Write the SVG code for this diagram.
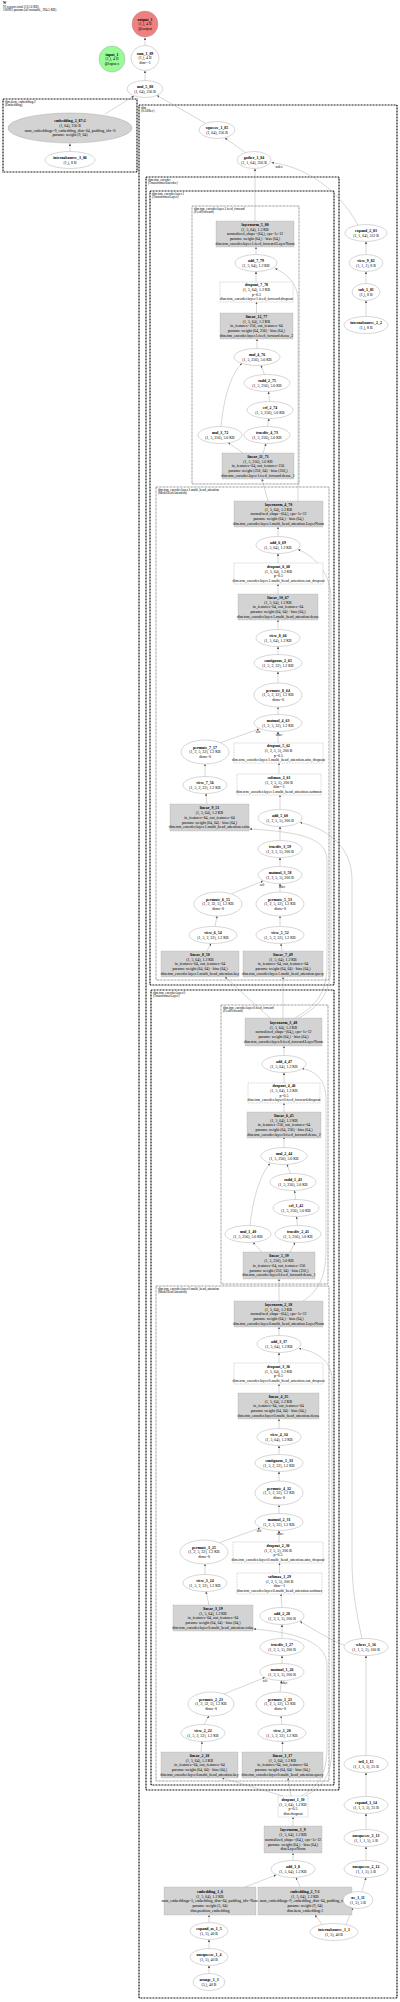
<svg xmlns="http://www.w3.org/2000/svg" width="400" height="2002" viewBox="0 0 400 2002">
<style>
text{font-family:"Liberation Serif",serif;font-size:3.9px;text-anchor:middle;fill:#000}
.b{font-weight:bold}
.n ellipse,.n circle{fill:#fff;stroke:#999;stroke-width:.4}
.n rect{stroke:#999;stroke-width:.4;stroke-dasharray:1 .6}
.gr{fill:#d3d3d3}
.wh{fill:#fff}
.cl rect{fill:none}
.c1{stroke:#000;stroke-width:1.1;stroke-dasharray:.9 .6}
.c2{stroke:#333;stroke-width:.6;stroke-dasharray:.8 .6}
.cl text,.hd{text-anchor:start;font-size:3.3px}
#edges path{fill:none;stroke:#999;stroke-width:.4;marker-end:url(#a)}
.lbl{font-size:3.2px}
</style>
<defs>
<marker id="a" viewBox="0 0 10 10" refX="10" refY="5" markerWidth="2.4" markerHeight="2.4" markerUnits="userSpaceOnUse" orient="auto"><path d="M0,0L10,5L0,10z" fill="#555"/></marker>
</defs>
<rect width="400" height="2002" fill="#fff"/>
<g id="title">
<text class="hd b" x="3" y="4.2">W</text>
<text class="hd" x="3" y="7.6">91 tensors total (112.6 KB)</text>
<text class="hd" x="3" y="11">100992 params (all trainable, 394.5 KB)</text>
</g>

<g id="clusters" class="cl">
<g id="cl_item_embedding"><rect class="c1" x="3" y="99" width="134" height="73"/><text x="5" y="102.5">dim.item_embedding:2</text><text x="5" y="105.8">(Embedding)</text></g>
<g id="cl_dim"><rect class="c1" x="139" y="105" width="258" height="1893"/><text x="141" y="108.5">dim</text><text x="141" y="111.8">(SASRec)</text></g>
<g id="cl_trm_encoder"><rect class="c1" x="146" y="177" width="193" height="1613"/><text x="148" y="180.5">dim.trm_encoder</text><text x="148" y="183.8">(TransformerEncoder)</text></g>
<g id="cl_layer1"><rect class="c1" x="150" y="191" width="184" height="794"/><text x="152" y="194.5">dim.trm_encoder.layer.1</text><text x="152" y="197.8">(TransformerLayer)</text></g>
<g id="cl_ff1"><rect class="c2" x="192" y="206" width="107" height="278"/><text x="194" y="209.5">dim.trm_encoder.layer.1.feed_forward</text><text x="194" y="212.8">(FeedForward)</text></g>
<g id="cl_mha1"><rect class="c2" x="156" y="487" width="173" height="493"/><text x="158" y="490.5">dim.trm_encoder.layer.1.multi_head_attention</text><text x="158" y="493.8">(MultiHeadAttention)</text></g>
<g id="cl_layer0"><rect class="c1" x="151" y="990" width="183" height="795"/><text x="153" y="993.5">dim.trm_encoder.layer.0</text><text x="153" y="996.8">(TransformerLayer)</text></g>
<g id="cl_ff0"><rect class="c2" x="221" y="1005" width="107" height="279"/><text x="223" y="1008.5">dim.trm_encoder.layer.0.feed_forward</text><text x="223" y="1011.8">(FeedForward)</text></g>
<g id="cl_mha0"><rect class="c2" x="156" y="1286" width="173" height="495"/><text x="158" y="1289.5">dim.trm_encoder.layer.0.multi_head_attention</text><text x="158" y="1292.8">(MultiHeadAttention)</text></g>
</g>

<g id="edges">
<path d="M145,45.5L145,37.5"/>
<path d="M145,80.5L145,70.5"/>
<path d="M105,114L134,96"/>
<path d="M205,123L157,95.5"/>
<path d="M246,153L225,138"/>
<path d="M255,221L255,168.5"/>
<path d="M358,225.5C345,200 315,168 271.5,162.5"/>
<path d="M366,316.5L366,300.5"/>
<path d="M366,283.5L366,271.5"/>
<path d="M366,254.5L366,241.5"/>
<path d="M70,151.5L70,143.5"/>
<path d="M256,254.5L256,247"/>
<path d="M256,282L256,271.5"/>
<path d="M256.5,313L256.5,302"/>
<path d="M257,348.5L257,339"/>
<path d="M264.5,374.7L261,365.3"/>
<path d="M221,426.5C224,395 232,372 242,363.5"/>
<path d="M269.5,401.5L268.5,391.5"/>
<path d="M267.5,426.5L269,418.5"/>
<path d="M243,453L228,442.5"/>
<path d="M263,453L266,443.5"/>
<path d="M268,501L262,479"/>
<path d="M298,501C298,480 298,460 298,440L298,300C298,285 288,274 275,268.5"/>
<path d="M278,536.5L278,527"/>
<path d="M278,563L278,553.5"/>
<path d="M278,594L278,584"/>
<path d="M278,629.5L278,620"/>
<path d="M278,654.5L278,646.5"/>
<path d="M278,683L278,671.5"/>
<path d="M278,714.5L278,707"/>
<path d="M278,743L278,731.5"/>
<path d="M221,742.5L259,729"/>
<path d="M205,776.5L205,764"/>
<path d="M207,804L206,793.5"/>
<path d="M279,774L279,763"/>
<path d="M280,809.5L280,795"/>
<path d="M280,840.5L280,826.5"/>
<path d="M280,866.5L280,857.5"/>
<path d="M280,892L280,883.5"/>
<path d="M232,893.5L263,881"/>
<path d="M215,926.5L217,916"/>
<path d="M280,926.5L280,916"/>
<path d="M207,951L211,943.5"/>
<path d="M282,951L281,943.5"/>
<path d="M270,1018L225,977"/>
<path d="M283,1018L283,977"/>
<path d="M295,1018C318,1005 327,990 327,965L327,860C327,838 300,832 249.5,829"/>
<path d="M299,1018C322,1005 331,990 331,965L331,600C331,570 312,555 298,549.5"/>
<path d="M362,1639C356,1610 352,1590 352,1560L352,880C352,845 325,828 300,822.5"/>
<path d="M284,1055.5L284,1046"/>
<path d="M284,1083L284,1072.5"/>
<path d="M284,1113L284,1103"/>
<path d="M284,1147.5L284,1137"/>
<path d="M290.5,1173.7L287,1164.3"/>
<path d="M250,1225.5C253,1198 260,1175 270,1163.5"/>
<path d="M295.5,1199.5L294.5,1190.5"/>
<path d="M297.5,1225.5L296.5,1216.5"/>
<path d="M262,1252L253,1242.3"/>
<path d="M290,1252L295,1242.5"/>
<path d="M279,1301L279,1279"/>
<path d="M303,1301C320,1290 326,1275 326,1250L326,1100C326,1080 316,1071 302,1068.5"/>
<path d="M279,1335.5L279,1327"/>
<path d="M279,1363L279,1352.5"/>
<path d="M279,1393L279,1384"/>
<path d="M279,1428.5L279,1419"/>
<path d="M279,1454.5L279,1445.5"/>
<path d="M279,1481L279,1471.5"/>
<path d="M279,1513.5L279,1505"/>
<path d="M279,1542L279,1530.5"/>
<path d="M220,1542.5L260,1528"/>
<path d="M205,1574.5L205,1564"/>
<path d="M209,1605L206,1591.5"/>
<path d="M279.5,1573L279.5,1563"/>
<path d="M282,1607.5L281,1594"/>
<path d="M282,1638.5L282,1624.5"/>
<path d="M344,1645C330,1640 315,1630 300,1621.5"/>
<path d="M282,1663.5L282,1655.5"/>
<path d="M280,1692L281.5,1680.5"/>
<path d="M224,1694L265,1677.5"/>
<path d="M204,1724.5L209,1716"/>
<path d="M282,1724.5L281,1716"/>
<path d="M201,1752L202,1741.5"/>
<path d="M282.5,1752L282.5,1741.5"/>
<path d="M283,1796L222,1778"/>
<path d="M291,1796L288,1778"/>
<path d="M301,1796C322,1785 327,1770 327,1745L327,1665C327,1640 290,1632 253.5,1629"/>
<path d="M305,1796C327,1785 332,1770 332,1745L332,1380C332,1360 315,1351 299,1348.5"/>
<path d="M293,1826L293,1817"/>
<path d="M293,1860.5L293,1853"/>
<path d="M245,1887L276,1875"/>
<path d="M300,1887L296,1877.5"/>
<path d="M209,1922.5L209,1915"/>
<path d="M209,1948.5L209,1939.5"/>
<path d="M209,1973.5L209,1965.5"/>
<path d="M322,1924.5L315,1915"/>
<path d="M346,1924.5L353,1908"/>
<path d="M362,1891.5L366,1877.5"/>
<path d="M366,1860.5L366,1846.5"/>
<path d="M366,1829.5L366,1813.5"/>
<path d="M366,1796.5L366,1772.5"/>
<path d="M366,1755.5L366,1655.5"/>
<text class="lbl" x="279" y="168">index</text>
<text class="lbl" x="258" y="733">self</text>
<text class="lbl" x="279" y="735.5">other</text>
<text class="lbl" x="262" y="886">self</text>
<text class="lbl" x="282" y="887.5">other</text>
<text class="lbl" x="259" y="1532">self</text>
<text class="lbl" x="280" y="1534.5">other</text>
<text class="lbl" x="265" y="1681.5">self</text>
<text class="lbl" x="284" y="1684">other</text>
</g>

<g id="nodes">
<g id="output_1" class="n"><circle cx="145" cy="24" r="13" style="fill:#f08080"/><text x="145" y="20.6"><tspan class="b">output_1</tspan><tspan x="145" dy="4.7">(1,), 4 B</tspan><tspan x="145" dy="4.7">@output</tspan></text></g>
<g id="input_1" class="n"><circle cx="112" cy="59" r="13" style="fill:#98fb98"/><text x="112" y="55.6"><tspan class="b">input_1</tspan><tspan x="112" dy="4.7">(1,), 4 B</tspan><tspan x="112" dy="4.7">@input.x</tspan></text></g>
<g id="sum_1_89" class="n"><ellipse cx="145" cy="58" rx="14" ry="12.5"/><text x="145" y="54.6"><tspan class="b">sum_1_89</tspan><tspan x="145" dy="4.7">(1,), 4 B</tspan><tspan x="145" dy="4.7">dim=-1</tspan></text></g>
<g id="mul_5_88" class="n"><ellipse cx="145" cy="89" rx="18" ry="8.5"/><text x="145" y="88"><tspan class="b">mul_5_88</tspan><tspan x="145" dy="4.7">(1, 64), 256 B</tspan></text></g>
<g id="squeeze_1_85" class="n"><ellipse cx="217" cy="130" rx="18" ry="8.5"/><text x="217" y="129"><tspan class="b">squeeze_1_85</tspan><tspan x="217" dy="4.7">(1, 64), 256 B</tspan></text></g>
<g id="gather_1_84" class="n"><ellipse cx="254" cy="160" rx="17" ry="8.5"/><text x="254" y="159"><tspan class="b">gather_1_84</tspan><tspan x="254" dy="4.7">(1, 1, 64), 256 B</tspan></text></g>
<g id="embedding_2_87" class="n"><ellipse cx="70" cy="128" rx="62" ry="15" style="fill:#d3d3d3"/><text x="70" y="122.3"><tspan class="b">embedding_2_87:2</tspan><tspan x="70" dy="4.7">(1, 64), 256 B</tspan><tspan x="70" dy="4.7">num_embeddings=9, embedding_dim=64, padding_idx=0</tspan><tspan x="70" dy="4.7">params: weight (9, 64)</tspan></text></g>
<g id="internalsource_3_86" class="n"><ellipse cx="70" cy="160" rx="25" ry="8.5"/><text x="70" y="159"><tspan class="b">internalsource_3_86</tspan><tspan x="70" dy="4.7">(1,), 8 B</tspan></text></g>
<g id="expand_2_83" class="n"><ellipse cx="366" cy="233" rx="21" ry="8.5"/><text x="366" y="232"><tspan class="b">expand_2_83</tspan><tspan x="366" dy="4.7">(1, 1, 64), 512 B</tspan></text></g>
<g id="view_9_82" class="n"><ellipse cx="366" cy="263" rx="17" ry="8.5"/><text x="366" y="262"><tspan class="b">view_9_82</tspan><tspan x="366" dy="4.7">(1, 1, 1), 8 B</tspan></text></g>
<g id="sub_1_81" class="n"><ellipse cx="366" cy="292" rx="14" ry="8.5"/><text x="366" y="291"><tspan class="b">sub_1_81</tspan><tspan x="366" dy="4.7">(1,), 8 B</tspan></text></g>
<g id="internalsource_2_2" class="n"><ellipse cx="366" cy="325" rx="22" ry="8.5"/><text x="366" y="324"><tspan class="b">internalsource_2_2</tspan><tspan x="366" dy="4.7">(1,), 8 B</tspan></text></g>

<g id="layernorm_5_80" class="n"><rect class="gr" x="216" y="221" width="78" height="26"/><text x="255" y="225.9"><tspan class="b">layernorm_5_80</tspan><tspan x="255" dy="4.7">(1, 5, 64), 1.2 KB</tspan><tspan x="255" dy="4.7">normalized_shape=(64,), eps=1e-12</tspan><tspan x="255" dy="4.7">params: weight (64,) · bias (64,)</tspan><tspan x="255" dy="4.7">dim.trm_encoder.layer.1.feed_forward.LayerNorm</tspan></text></g>
<g id="add_7_79" class="n"><ellipse cx="256" cy="263" rx="21" ry="8.5"/><text x="256" y="262"><tspan class="b">add_7_79</tspan><tspan x="256" dy="4.7">(1, 5, 64), 1.2 KB</tspan></text></g>
<g id="dropout_7_78" class="n"><rect class="wh" x="220" y="282" width="73" height="20"/><text x="256.5" y="286.3"><tspan class="b">dropout_7_78</tspan><tspan x="256.5" dy="4.7">(1, 5, 64), 1.2 KB</tspan><tspan x="256.5" dy="4.7">p=0.5</tspan><tspan x="256.5" dy="4.7">dim.trm_encoder.layer.1.feed_forward.dropout</tspan></text></g>
<g id="linear_12_77" class="n"><rect class="gr" x="220" y="313" width="73" height="26"/><text x="256.5" y="317.9"><tspan class="b">linear_12_77</tspan><tspan x="256.5" dy="4.7">(1, 5, 64), 1.2 KB</tspan><tspan x="256.5" dy="4.7">in_features=256, out_features=64</tspan><tspan x="256.5" dy="4.7">params: weight (64, 256) · bias (64,)</tspan><tspan x="256.5" dy="4.7">dim.trm_encoder.layer.1.feed_forward.dense_2</tspan></text></g>
<g id="mul_4_76" class="n"><ellipse cx="257" cy="357" rx="23" ry="8.5"/><text x="257" y="356"><tspan class="b">mul_4_76</tspan><tspan x="257" dy="4.7">(1, 5, 256), 5.0 KB</tspan></text></g>
<g id="radd_2_75" class="n"><ellipse cx="267" cy="383" rx="23" ry="8.5"/><text x="267" y="382"><tspan class="b">radd_2_75</tspan><tspan x="267" dy="4.7">(1, 5, 256), 5.0 KB</tspan></text></g>
<g id="erf_2_74" class="n"><ellipse cx="270" cy="410" rx="23" ry="8.5"/><text x="270" y="409"><tspan class="b">erf_2_74</tspan><tspan x="270" dy="4.7">(1, 5, 256), 5.0 KB</tspan></text></g>
<g id="mul_3_72" class="n"><ellipse cx="220" cy="435" rx="22" ry="8.5"/><text x="220" y="434"><tspan class="b">mul_3_72</tspan><tspan x="220" dy="4.7">(1, 5, 256), 5.0 KB</tspan></text></g>
<g id="truediv_4_73" class="n"><ellipse cx="267" cy="435" rx="23" ry="8.5"/><text x="267" y="434"><tspan class="b">truediv_4_73</tspan><tspan x="267" dy="4.7">(1, 5, 256), 5.0 KB</tspan></text></g>
<g id="linear_11_71" class="n"><rect class="gr" x="222" y="453" width="72" height="26"/><text x="258" y="457.9"><tspan class="b">linear_11_71</tspan><tspan x="258" dy="4.7">(1, 5, 256), 5.0 KB</tspan><tspan x="258" dy="4.7">in_features=64, out_features=256</tspan><tspan x="258" dy="4.7">params: weight (256, 64) · bias (256,)</tspan><tspan x="258" dy="4.7">dim.trm_encoder.layer.1.feed_forward.dense_1</tspan></text></g>

<g id="layernorm_4_70" class="n"><rect class="gr" x="234" y="501" width="89" height="26"/><text x="278.5" y="505.9"><tspan class="b">layernorm_4_70</tspan><tspan x="278.5" dy="4.7">(1, 5, 64), 1.2 KB</tspan><tspan x="278.5" dy="4.7">normalized_shape=(64,), eps=1e-12</tspan><tspan x="278.5" dy="4.7">params: weight (64,) · bias (64,)</tspan><tspan x="278.5" dy="4.7">dim.trm_encoder.layer.1.multi_head_attention.LayerNorm</tspan></text></g>
<g id="add_6_69" class="n"><ellipse cx="278" cy="545" rx="22" ry="8.5"/><text x="278" y="544"><tspan class="b">add_6_69</tspan><tspan x="278" dy="4.7">(1, 5, 64), 1.2 KB</tspan></text></g>
<g id="dropout_6_68" class="n"><rect class="wh" x="234" y="563" width="89" height="21"/><text x="278.5" y="567.8"><tspan class="b">dropout_6_68</tspan><tspan x="278.5" dy="4.7">(1, 5, 64), 1.2 KB</tspan><tspan x="278.5" dy="4.7">p=0.5</tspan><tspan x="278.5" dy="4.7">dim.trm_encoder.layer.1.multi_head_attention.out_dropout</tspan></text></g>
<g id="linear_10_67" class="n"><rect class="gr" x="238" y="594" width="80" height="26"/><text x="278" y="598.9"><tspan class="b">linear_10_67</tspan><tspan x="278" dy="4.7">(1, 5, 64), 1.2 KB</tspan><tspan x="278" dy="4.7">in_features=64, out_features=64</tspan><tspan x="278" dy="4.7">params: weight (64, 64) · bias (64,)</tspan><tspan x="278" dy="4.7">dim.trm_encoder.layer.1.multi_head_attention.dense</tspan></text></g>
<g id="view_8_66" class="n"><ellipse cx="278" cy="638" rx="22" ry="8.5"/><text x="278" y="637"><tspan class="b">view_8_66</tspan><tspan x="278" dy="4.7">(1, 5, 64), 1.2 KB</tspan></text></g>
<g id="contiguous_2_65" class="n"><ellipse cx="278" cy="663" rx="24" ry="8.5"/><text x="278" y="662"><tspan class="b">contiguous_2_65</tspan><tspan x="278" dy="4.7">(1, 5, 2, 32), 1.2 KB</tspan></text></g>
<g id="permute_8_64" class="n"><ellipse cx="278" cy="695" rx="24" ry="12"/><text x="278" y="691.6"><tspan class="b">permute_8_64</tspan><tspan x="278" dy="4.7">(1, 5, 2, 32), 1.2 KB</tspan><tspan x="278" dy="4.7">dims=0</tspan></text></g>
<g id="matmul_4_63" class="n"><ellipse cx="278" cy="723" rx="24" ry="8.5"/><text x="278" y="722"><tspan class="b">matmul_4_63</tspan><tspan x="278" dy="4.7">(1, 2, 5, 32), 1.2 KB</tspan></text></g>
<g id="permute_7_57" class="n"><ellipse cx="205" cy="752" rx="24" ry="12"/><text x="205" y="748.6"><tspan class="b">permute_7_57</tspan><tspan x="205" dy="4.7">(1, 2, 5, 32), 1.2 KB</tspan><tspan x="205" dy="4.7">dims=0</tspan></text></g>
<g id="dropout_5_62" class="n"><rect class="wh" x="234" y="743" width="89" height="20"/><text x="278.5" y="747.3"><tspan class="b">dropout_5_62</tspan><tspan x="278.5" dy="4.7">(1, 2, 5, 5), 200 B</tspan><tspan x="278.5" dy="4.7">p=0.5</tspan><tspan x="278.5" dy="4.7">dim.trm_encoder.layer.1.multi_head_attention.attn_dropout</tspan></text></g>
<g id="view_7_56" class="n"><ellipse cx="205" cy="785" rx="22" ry="8.5"/><text x="205" y="784"><tspan class="b">view_7_56</tspan><tspan x="205" dy="4.7">(1, 5, 2, 32), 1.2 KB</tspan></text></g>
<g id="softmax_2_61" class="n"><rect class="wh" x="237" y="774" width="84" height="21"/><text x="279" y="778.8"><tspan class="b">softmax_2_61</tspan><tspan x="279" dy="4.7">(1, 2, 5, 5), 200 B</tspan><tspan x="279" dy="4.7">dim=-1</tspan><tspan x="279" dy="4.7">dim.trm_encoder.layer.1.multi_head_attention.softmax</tspan></text></g>
<g id="linear_9_51" class="n"><rect class="gr" x="170" y="804" width="79" height="27"/><text x="209.5" y="809.4"><tspan class="b">linear_9_51</tspan><tspan x="209.5" dy="4.7">(1, 5, 64), 1.2 KB</tspan><tspan x="209.5" dy="4.7">in_features=64, out_features=64</tspan><tspan x="209.5" dy="4.7">params: weight (64, 64) · bias (64,)</tspan><tspan x="209.5" dy="4.7">dim.trm_encoder.layer.1.multi_head_attention.value</tspan></text></g>
<g id="add_5_60" class="n"><ellipse cx="280" cy="818" rx="22" ry="8.5"/><text x="280" y="817"><tspan class="b">add_5_60</tspan><tspan x="280" dy="4.7">(1, 2, 5, 5), 200 B</tspan></text></g>
<g id="truediv_3_59" class="n"><ellipse cx="280" cy="849" rx="22" ry="8.5"/><text x="280" y="848"><tspan class="b">truediv_3_59</tspan><tspan x="280" dy="4.7">(1, 2, 5, 5), 200 B</tspan></text></g>
<g id="matmul_3_58" class="n"><ellipse cx="280" cy="875" rx="22" ry="8.5"/><text x="280" y="874"><tspan class="b">matmul_3_58</tspan><tspan x="280" dy="4.7">(1, 2, 5, 5), 200 B</tspan></text></g>
<g id="permute_6_55" class="n"><ellipse cx="218" cy="904" rx="24" ry="12"/><text x="218" y="900.6"><tspan class="b">permute_6_55</tspan><tspan x="218" dy="4.7">(1, 2, 32, 5), 1.2 KB</tspan><tspan x="218" dy="4.7">dims=0</tspan></text></g>
<g id="permute_5_53" class="n"><ellipse cx="280" cy="904" rx="24" ry="12"/><text x="280" y="900.6"><tspan class="b">permute_5_53</tspan><tspan x="280" dy="4.7">(1, 2, 5, 32), 1.2 KB</tspan><tspan x="280" dy="4.7">dims=0</tspan></text></g>
<g id="view_6_54" class="n"><ellipse cx="213" cy="935" rx="24" ry="8.5"/><text x="213" y="934"><tspan class="b">view_6_54</tspan><tspan x="213" dy="4.7">(1, 5, 2, 32), 1.2 KB</tspan></text></g>
<g id="view_5_52" class="n"><ellipse cx="280" cy="935" rx="24" ry="8.5"/><text x="280" y="934"><tspan class="b">view_5_52</tspan><tspan x="280" dy="4.7">(1, 5, 2, 32), 1.2 KB</tspan></text></g>
<g id="linear_8_50" class="n"><rect class="gr" x="161" y="951" width="78" height="26"/><text x="200" y="955.9"><tspan class="b">linear_8_50</tspan><tspan x="200" dy="4.7">(1, 5, 64), 1.2 KB</tspan><tspan x="200" dy="4.7">in_features=64, out_features=64</tspan><tspan x="200" dy="4.7">params: weight (64, 64) · bias (64,)</tspan><tspan x="200" dy="4.7">dim.trm_encoder.layer.1.multi_head_attention.key</tspan></text></g>
<g id="linear_7_49" class="n"><rect class="gr" x="243" y="951" width="80" height="26"/><text x="283" y="955.9"><tspan class="b">linear_7_49</tspan><tspan x="283" dy="4.7">(1, 5, 64), 1.2 KB</tspan><tspan x="283" dy="4.7">in_features=64, out_features=64</tspan><tspan x="283" dy="4.7">params: weight (64, 64) · bias (64,)</tspan><tspan x="283" dy="4.7">dim.trm_encoder.layer.1.multi_head_attention.query</tspan></text></g>

<g id="layernorm_3_48" class="n"><rect class="gr" x="245" y="1018" width="77" height="28"/><text x="283.5" y="1023.9"><tspan class="b">layernorm_3_48</tspan><tspan x="283.5" dy="4.7">(1, 5, 64), 1.2 KB</tspan><tspan x="283.5" dy="4.7">normalized_shape=(64,), eps=1e-12</tspan><tspan x="283.5" dy="4.7">params: weight (64,) · bias (64,)</tspan><tspan x="283.5" dy="4.7">dim.trm_encoder.layer.0.feed_forward.LayerNorm</tspan></text></g>
<g id="add_4_47" class="n"><ellipse cx="284" cy="1064" rx="22" ry="8.5"/><text x="284" y="1063"><tspan class="b">add_4_47</tspan><tspan x="284" dy="4.7">(1, 5, 64), 1.2 KB</tspan></text></g>
<g id="dropout_4_46" class="n"><rect class="wh" x="248" y="1083" width="72" height="20"/><text x="284" y="1087.3"><tspan class="b">dropout_4_46</tspan><tspan x="284" dy="4.7">(1, 5, 64), 1.2 KB</tspan><tspan x="284" dy="4.7">p=0.5</tspan><tspan x="284" dy="4.7">dim.trm_encoder.layer.0.feed_forward.dropout</tspan></text></g>
<g id="linear_6_45" class="n"><rect class="gr" x="247" y="1112" width="74" height="26"/><text x="284" y="1116.9"><tspan class="b">linear_6_45</tspan><tspan x="284" dy="4.7">(1, 5, 64), 1.2 KB</tspan><tspan x="284" dy="4.7">in_features=256, out_features=64</tspan><tspan x="284" dy="4.7">params: weight (64, 256) · bias (64,)</tspan><tspan x="284" dy="4.7">dim.trm_encoder.layer.0.feed_forward.dense_2</tspan></text></g>
<g id="mul_2_44" class="n"><ellipse cx="284" cy="1156" rx="23" ry="8.5"/><text x="284" y="1155"><tspan class="b">mul_2_44</tspan><tspan x="284" dy="4.7">(1, 5, 256), 5.0 KB</tspan></text></g>
<g id="radd_1_43" class="n"><ellipse cx="293" cy="1182" rx="23" ry="8.5"/><text x="293" y="1181"><tspan class="b">radd_1_43</tspan><tspan x="293" dy="4.7">(1, 5, 256), 5.0 KB</tspan></text></g>
<g id="erf_1_42" class="n"><ellipse cx="296" cy="1208" rx="23" ry="8.5"/><text x="296" y="1207"><tspan class="b">erf_1_42</tspan><tspan x="296" dy="4.7">(1, 5, 256), 5.0 KB</tspan></text></g>
<g id="mul_1_40" class="n"><ellipse cx="248" cy="1234" rx="23" ry="8.5"/><text x="248" y="1233"><tspan class="b">mul_1_40</tspan><tspan x="248" dy="4.7">(1, 5, 256), 5.0 KB</tspan></text></g>
<g id="truediv_2_41" class="n"><ellipse cx="298" cy="1234" rx="23" ry="8.5"/><text x="298" y="1233"><tspan class="b">truediv_2_41</tspan><tspan x="298" dy="4.7">(1, 5, 256), 5.0 KB</tspan></text></g>
<g id="linear_5_39" class="n"><rect class="gr" x="243" y="1252" width="72" height="27"/><text x="279" y="1257.4"><tspan class="b">linear_5_39</tspan><tspan x="279" dy="4.7">(1, 5, 256), 5.0 KB</tspan><tspan x="279" dy="4.7">in_features=64, out_features=256</tspan><tspan x="279" dy="4.7">params: weight (256, 64) · bias (256,)</tspan><tspan x="279" dy="4.7">dim.trm_encoder.layer.0.feed_forward.dense_1</tspan></text></g>

<g id="layernorm_2_38" class="n"><rect class="gr" x="234" y="1301" width="89" height="26"/><text x="278.5" y="1305.9"><tspan class="b">layernorm_2_38</tspan><tspan x="278.5" dy="4.7">(1, 5, 64), 1.2 KB</tspan><tspan x="278.5" dy="4.7">normalized_shape=(64,), eps=1e-12</tspan><tspan x="278.5" dy="4.7">params: weight (64,) · bias (64,)</tspan><tspan x="278.5" dy="4.7">dim.trm_encoder.layer.0.multi_head_attention.LayerNorm</tspan></text></g>
<g id="add_3_37" class="n"><ellipse cx="279" cy="1344" rx="22" ry="8.5"/><text x="279" y="1343"><tspan class="b">add_3_37</tspan><tspan x="279" dy="4.7">(1, 5, 64), 1.2 KB</tspan></text></g>
<g id="dropout_3_36" class="n"><rect class="wh" x="234" y="1363" width="89" height="21"/><text x="278.5" y="1367.8"><tspan class="b">dropout_3_36</tspan><tspan x="278.5" dy="4.7">(1, 5, 64), 1.2 KB</tspan><tspan x="278.5" dy="4.7">p=0.5</tspan><tspan x="278.5" dy="4.7">dim.trm_encoder.layer.0.multi_head_attention.out_dropout</tspan></text></g>
<g id="linear_4_35" class="n"><rect class="gr" x="238" y="1393" width="81" height="26"/><text x="278.5" y="1397.9"><tspan class="b">linear_4_35</tspan><tspan x="278.5" dy="4.7">(1, 5, 64), 1.2 KB</tspan><tspan x="278.5" dy="4.7">in_features=64, out_features=64</tspan><tspan x="278.5" dy="4.7">params: weight (64, 64) · bias (64,)</tspan><tspan x="278.5" dy="4.7">dim.trm_encoder.layer.0.multi_head_attention.dense</tspan></text></g>
<g id="view_4_34" class="n"><ellipse cx="279" cy="1437" rx="22" ry="8.5"/><text x="279" y="1436"><tspan class="b">view_4_34</tspan><tspan x="279" dy="4.7">(1, 5, 64), 1.2 KB</tspan></text></g>
<g id="contiguous_1_33" class="n"><ellipse cx="279" cy="1463" rx="24" ry="8.5"/><text x="279" y="1462"><tspan class="b">contiguous_1_33</tspan><tspan x="279" dy="4.7">(1, 5, 2, 32), 1.2 KB</tspan></text></g>
<g id="permute_4_32" class="n"><ellipse cx="279" cy="1493" rx="24" ry="12"/><text x="279" y="1489.6"><tspan class="b">permute_4_32</tspan><tspan x="279" dy="4.7">(1, 5, 2, 32), 1.2 KB</tspan><tspan x="279" dy="4.7">dims=0</tspan></text></g>
<g id="matmul_2_31" class="n"><ellipse cx="279" cy="1522" rx="24" ry="8.5"/><text x="279" y="1521"><tspan class="b">matmul_2_31</tspan><tspan x="279" dy="4.7">(1, 2, 5, 32), 1.2 KB</tspan></text></g>
<g id="permute_3_25" class="n"><ellipse cx="204" cy="1552" rx="24" ry="12"/><text x="204" y="1548.6"><tspan class="b">permute_3_25</tspan><tspan x="204" dy="4.7">(1, 2, 5, 32), 1.2 KB</tspan><tspan x="204" dy="4.7">dims=0</tspan></text></g>
<g id="dropout_2_30" class="n"><rect class="wh" x="233" y="1542" width="90" height="21"/><text x="278" y="1546.8"><tspan class="b">dropout_2_30</tspan><tspan x="278" dy="4.7">(1, 2, 5, 5), 200 B</tspan><tspan x="278" dy="4.7">p=0.5</tspan><tspan x="278" dy="4.7">dim.trm_encoder.layer.0.multi_head_attention.attn_dropout</tspan></text></g>
<g id="view_3_24" class="n"><ellipse cx="205" cy="1583" rx="22" ry="8.5"/><text x="205" y="1582"><tspan class="b">view_3_24</tspan><tspan x="205" dy="4.7">(1, 5, 2, 32), 1.2 KB</tspan></text></g>
<g id="softmax_1_29" class="n"><rect class="wh" x="237" y="1573" width="85" height="21"/><text x="279.5" y="1577.8"><tspan class="b">softmax_1_29</tspan><tspan x="279.5" dy="4.7">(1, 2, 5, 5), 200 B</tspan><tspan x="279.5" dy="4.7">dim=-1</tspan><tspan x="279.5" dy="4.7">dim.trm_encoder.layer.0.multi_head_attention.softmax</tspan></text></g>
<g id="linear_3_19" class="n"><rect class="gr" x="173" y="1605" width="80" height="26"/><text x="213" y="1609.9"><tspan class="b">linear_3_19</tspan><tspan x="213" dy="4.7">(1, 5, 64), 1.2 KB</tspan><tspan x="213" dy="4.7">in_features=64, out_features=64</tspan><tspan x="213" dy="4.7">params: weight (64, 64) · bias (64,)</tspan><tspan x="213" dy="4.7">dim.trm_encoder.layer.0.multi_head_attention.value</tspan></text></g>
<g id="add_2_28" class="n"><ellipse cx="282" cy="1616" rx="22" ry="8.5"/><text x="282" y="1615"><tspan class="b">add_2_28</tspan><tspan x="282" dy="4.7">(1, 2, 5, 5), 200 B</tspan></text></g>
<g id="truediv_1_27" class="n"><ellipse cx="282" cy="1647" rx="22" ry="8.5"/><text x="282" y="1646"><tspan class="b">truediv_1_27</tspan><tspan x="282" dy="4.7">(1, 2, 5, 5), 200 B</tspan></text></g>
<g id="matmul_1_26" class="n"><ellipse cx="282" cy="1672" rx="22" ry="8.5"/><text x="282" y="1671"><tspan class="b">matmul_1_26</tspan><tspan x="282" dy="4.7">(1, 2, 5, 5), 200 B</tspan></text></g>
<g id="permute_2_23" class="n"><ellipse cx="211" cy="1704" rx="23" ry="12"/><text x="211" y="1700.6"><tspan class="b">permute_2_23</tspan><tspan x="211" dy="4.7">(1, 2, 32, 5), 1.2 KB</tspan><tspan x="211" dy="4.7">dims=0</tspan></text></g>
<g id="permute_1_21" class="n"><ellipse cx="280" cy="1704" rx="24" ry="12"/><text x="280" y="1700.6"><tspan class="b">permute_1_21</tspan><tspan x="280" dy="4.7">(1, 2, 5, 32), 1.2 KB</tspan><tspan x="280" dy="4.7">dims=0</tspan></text></g>
<g id="view_2_22" class="n"><ellipse cx="203" cy="1733" rx="22" ry="8.5"/><text x="203" y="1732"><tspan class="b">view_2_22</tspan><tspan x="203" dy="4.7">(1, 5, 2, 32), 1.2 KB</tspan></text></g>
<g id="view_1_20" class="n"><ellipse cx="282" cy="1733" rx="24" ry="8.5"/><text x="282" y="1732"><tspan class="b">view_1_20</tspan><tspan x="282" dy="4.7">(1, 5, 2, 32), 1.2 KB</tspan></text></g>
<g id="linear_2_18" class="n"><rect class="gr" x="161" y="1752" width="77" height="26"/><text x="199.5" y="1756.9"><tspan class="b">linear_2_18</tspan><tspan x="199.5" dy="4.7">(1, 5, 64), 1.2 KB</tspan><tspan x="199.5" dy="4.7">in_features=64, out_features=64</tspan><tspan x="199.5" dy="4.7">params: weight (64, 64) · bias (64,)</tspan><tspan x="199.5" dy="4.7">dim.trm_encoder.layer.0.multi_head_attention.key</tspan></text></g>
<g id="linear_1_17" class="n"><rect class="gr" x="242" y="1752" width="81" height="26"/><text x="282.5" y="1756.9"><tspan class="b">linear_1_17</tspan><tspan x="282.5" dy="4.7">(1, 5, 64), 1.2 KB</tspan><tspan x="282.5" dy="4.7">in_features=64, out_features=64</tspan><tspan x="282.5" dy="4.7">params: weight (64, 64) · bias (64,)</tspan><tspan x="282.5" dy="4.7">dim.trm_encoder.layer.0.multi_head_attention.query</tspan></text></g>

<g id="dropout_1_10" class="n"><rect class="wh" x="278" y="1796" width="30" height="21"/><text x="293" y="1800.8"><tspan class="b">dropout_1_10</tspan><tspan x="293" dy="4.7">(1, 5, 64), 1.2 KB</tspan><tspan x="293" dy="4.7">p=0.5</tspan><tspan x="293" dy="4.7">dim.dropout</tspan></text></g>
<g id="layernorm_1_9" class="n"><rect class="gr" x="264" y="1826" width="58" height="27"/><text x="293" y="1831.4"><tspan class="b">layernorm_1_9</tspan><tspan x="293" dy="4.7">(1, 5, 64), 1.2 KB</tspan><tspan x="293" dy="4.7">normalized_shape=(64,), eps=1e-12</tspan><tspan x="293" dy="4.7">params: weight (64,) · bias (64,)</tspan><tspan x="293" dy="4.7">dim.LayerNorm</tspan></text></g>
<g id="add_1_8" class="n"><ellipse cx="293" cy="1869" rx="22" ry="8.5"/><text x="293" y="1868"><tspan class="b">add_1_8</tspan><tspan x="293" dy="4.7">(1, 5, 64), 1.2 KB</tspan></text></g>
<g id="embedding_1_6" class="n"><rect class="gr" x="164" y="1887" width="92" height="28"/><text x="210" y="1892.9"><tspan class="b">embedding_1_6</tspan><tspan x="210" dy="4.7">(1, 5, 64), 1.2 KB</tspan><tspan x="210" dy="4.7">num_embeddings=5, embedding_dim=64, padding_idx=None</tspan><tspan x="210" dy="4.7">params: weight (5, 64)</tspan><tspan x="210" dy="4.7">dim.position_embedding</tspan></text></g>
<g id="embedding_2_7" class="n"><rect class="gr" x="258" y="1887" width="94" height="28"/><text x="305" y="1892.9"><tspan class="b">embedding_2_7:1</tspan><tspan x="305" dy="4.7">(1, 5, 64), 1.2 KB</tspan><tspan x="305" dy="4.7">num_embeddings=9, embedding_dim=64, padding_idx=0</tspan><tspan x="305" dy="4.7">params: weight (9, 64)</tspan><tspan x="305" dy="4.7">dim.item_embedding:1</tspan></text></g>
<g id="ne_1_11" class="n"><ellipse cx="358" cy="1900" rx="15" ry="8.5"/><text x="358" y="1899"><tspan class="b">ne_1_11</tspan><tspan x="358" dy="4.7">(1, 5), 5 B</tspan></text></g>
<g id="expand_as_1_5" class="n"><ellipse cx="209" cy="1931" rx="19" ry="8.5"/><text x="209" y="1930"><tspan class="b">expand_as_1_5</tspan><tspan x="209" dy="4.7">(1, 5), 40 B</tspan></text></g>
<g id="internalsource_1_1" class="n"><ellipse cx="334" cy="1932" rx="24" ry="8.5"/><text x="334" y="1931"><tspan class="b">internalsource_1_1</tspan><tspan x="334" dy="4.7">(1, 5), 40 B</tspan></text></g>
<g id="unsqueeze_1_4" class="n"><ellipse cx="209" cy="1957" rx="19" ry="8.5"/><text x="209" y="1956"><tspan class="b">unsqueeze_1_4</tspan><tspan x="209" dy="4.7">(1, 5), 40 B</tspan></text></g>
<g id="arange_1_3" class="n"><ellipse cx="209" cy="1982" rx="16" ry="8.5"/><text x="209" y="1981"><tspan class="b">arange_1_3</tspan><tspan x="209" dy="4.7">(5,), 40 B</tspan></text></g>
<g id="unsqueeze_2_12" class="n"><ellipse cx="366" cy="1869" rx="22" ry="8.5"/><text x="366" y="1868"><tspan class="b">unsqueeze_2_12</tspan><tspan x="366" dy="4.7">(1, 1, 5), 5 B</tspan></text></g>
<g id="unsqueeze_3_13" class="n"><ellipse cx="366" cy="1838" rx="22" ry="8.5"/><text x="366" y="1837"><tspan class="b">unsqueeze_3_13</tspan><tspan x="366" dy="4.7">(1, 1, 1, 5), 5 B</tspan></text></g>
<g id="expand_1_14" class="n"><ellipse cx="366" cy="1805" rx="22" ry="8.5"/><text x="366" y="1804"><tspan class="b">expand_1_14</tspan><tspan x="366" dy="4.7">(1, 1, 5, 5), 25 B</tspan></text></g>
<g id="tril_1_15" class="n"><ellipse cx="366" cy="1764" rx="22" ry="8.5"/><text x="366" y="1763"><tspan class="b">tril_1_15</tspan><tspan x="366" dy="4.7">(1, 1, 5, 5), 25 B</tspan></text></g>
<g id="where_1_16" class="n"><ellipse cx="366" cy="1647" rx="22" ry="8.5"/><text x="366" y="1646"><tspan class="b">where_1_16</tspan><tspan x="366" dy="4.7">(1, 1, 5, 5), 100 B</tspan></text></g>
</g>
</svg>
